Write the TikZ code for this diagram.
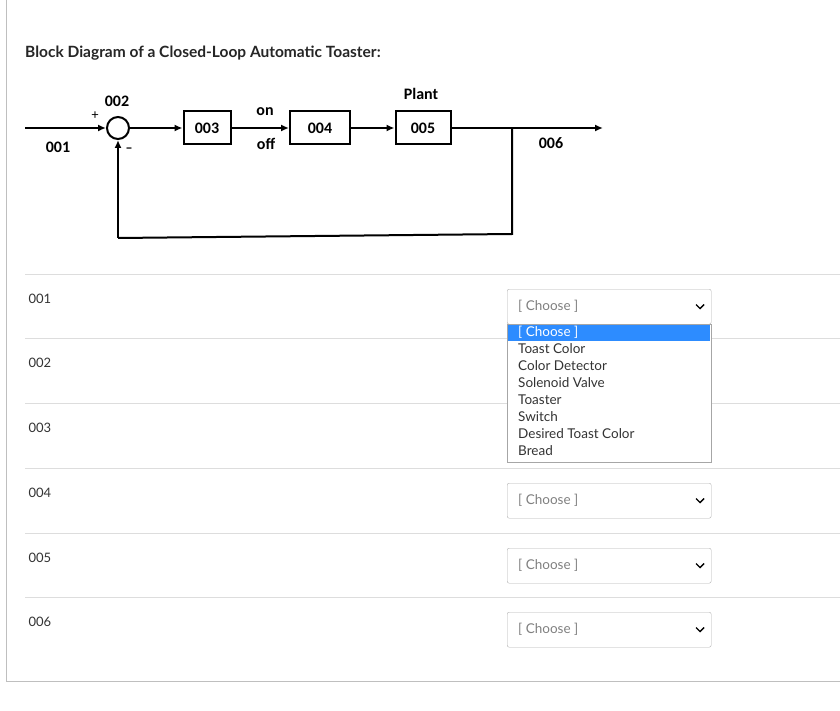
\documentclass[tikz,border=0pt]{standalone}
\usepackage{fontspec}
\setmainfont{Lato}
\newfontfamily\carlitofont{Carlito}
\usetikzlibrary{arrows.meta}
\definecolor{sep}{HTML}{DDDDDD}
\definecolor{txt}{HTML}{333333}
\definecolor{hl}{HTML}{2D8CFF}
\tikzset{
 blk/.style={draw,line width=2pt,minimum width=47pt,minimum height=33pt,font=\carlitofont\bfseries\fontsize{16}{16}\selectfont},
 lbl/.style={font=\carlitofont\bfseries\fontsize{16}{16}\selectfont},
 sig/.style={line width=2pt,-{Latex[length=8pt,width=7pt]}},
 wire/.style={line width=2pt},
 rowlbl/.style={anchor=west,text=txt,font=\fontsize{13}{13}\selectfont},
 dd/.style={draw=gray!60,rounded corners=2pt,minimum width=204pt,minimum height=35pt,anchor=north west},
 item/.style={anchor=west,text=txt,font=\fontsize{13.5}{13.5}\selectfont,inner sep=0pt}
}
\begin{document}
\begin{tikzpicture}[x=1pt,y=-1pt]
\useasboundingbox (0,0) rectangle (840,711);
\fill[white] (0,0) rectangle (840,711);
\draw[gray!50] (6,0) -- (6,681) -- (840,681);
\node[anchor=west,inner sep=0pt,font=\bfseries\fontsize{15.5}{15.5}\selectfont,text=black!85] (title) at (25,53) {Block Diagram of a Closed-Loop Automatic Toaster:};
% diagram
\coordinate (in) at (25,128);
\node[draw,circle,line width=2pt,minimum size=22pt,inner sep=0pt] (sum) at (118,128) {};
\node[blk,minimum width=47pt] (b3) at (207,128) {003};
\node[blk,minimum width=60pt] (b4) at (320,128) {004};
\node[blk,minimum width=55pt] (b5) at (423,128) {005};
\coordinate (out) at (603,128);
\coordinate (br) at (512,128);
\coordinate (bl) at (512,234);
\coordinate (fb) at (118,238);
\draw[sig] (in) -- (sum);
\draw[sig] (sum) -- (b3);
\draw[sig] (b3) -- (b4);
\draw[sig] (b4) -- (b5);
\draw[sig] (b5) -- (out);
\draw[wire] (br) -- (bl) -- (fb);
\draw[sig] (fb) -- (sum);
\node[lbl] (l002) at (117,101) {002};
\node[font=\carlitofont\fontsize{14}{14}\selectfont] (plus) at (95,116) {+};
\node[lbl] (l001) at (58,147) {001};
\node[font=\carlitofont\bfseries\fontsize{14}{14}\selectfont] (minus) at (129,150) {–};
\node[lbl] (on) at (265,112) {on};
\node[lbl] (off) at (266,144) {off};
\node[lbl] (plant) at (421,94) {Plant};
\node[lbl] (l006) at (551,143) {006};
% rows
\foreach \y in {274,338,403,468,533,597} \draw[sep] (25,\y) -- (840,\y);
\foreach \t/\y in {001/299,002/363,003/428,004/493,005/558,006/622}
  \node[rowlbl] (r\t) at (25,\y) {\t};
\foreach \n/\y in {b/353,c/418}
  \node[dd] (dd\n) at (507,\y) {};
\foreach \n/\y in {a/289,d/483,e/548,f/612}{
  \node[dd] (dd\n) at (507,\y) {};
  \node[item,text=gray] (ch\n) at (518,\y+17.5) {[ Choose ]};
  \draw[line width=1.4pt] (696,\y+15.5) -- (700,\y+19.5) -- (704,\y+15.5);
}
% list
\fill[white] (507,324) rectangle (711,462);
\draw[gray!70] (507,324) rectangle (711,462);
\fill[hl] (508,324.5) rectangle (710,341);
\node[item,text=white] (i0) at (518,332) {[ Choose ]};
\foreach \t [count=\i] in {Toast Color,Color Detector,Solenoid Valve,Toaster,Switch,Desired Toast Color,Bread}
  \node[item] (i\i) at (518,332+17*\i) {\t};
\end{tikzpicture}
\end{document}
